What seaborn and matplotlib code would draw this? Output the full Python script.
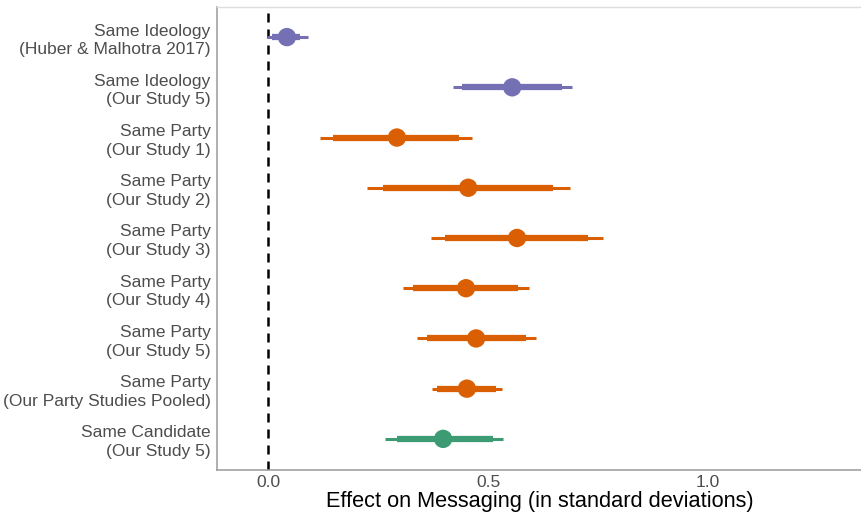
import matplotlib
matplotlib.use('Agg')

import numpy as np
import pandas as pd
import matplotlib.pyplot as plt
import seaborn as sns

# ------------------------------------------------------------------------
# data (effects in standard deviations)
# ------------------------------------------------------------------------

labels = ["Same Ideology\n(Huber & Malhotra 2017)",
          "Same Ideology\n(Our Study 5)",
          "Same Party\n(Our Study 1)",
          "Same Party\n(Our Study 2)",
          "Same Party\n(Our Study 3)",
          "Same Party\n(Our Study 4)",
          "Same Party\n(Our Study 5)",
          "Same Party\n(Our Party Studies Pooled)",
          "Same Candidate\n(Our Study 5)"]
kind = ["Ideology", "Ideology", "Party", "Party", "Party", "Party", "Party", "Party", "Candidate"]
estimate = [0.043, 0.555, 0.293, 0.455, 0.566, 0.450, 0.473, 0.452, 0.398]
thick_lo = [0.008, 0.441, 0.148, 0.261, 0.402, 0.330, 0.361, 0.385, 0.293]
thick_hi = [0.073, 0.668, 0.434, 0.648, 0.727, 0.568, 0.586, 0.518, 0.511]
thin_lo = [-0.002, 0.420, 0.118, 0.225, 0.370, 0.307, 0.338, 0.372, 0.266]
thin_hi = [0.091, 0.690, 0.464, 0.686, 0.761, 0.593, 0.609, 0.532, 0.534]

palette = {"Ideology": "#7570b3", "Party": "#d95f02", "Candidate": "#3d9b74"}

df = pd.DataFrame({"label": labels, "kind": kind, "est": estimate,
                   "lo1": thick_lo, "hi1": thick_hi, "lo2": thin_lo, "hi2": thin_hi})
df["pos"] = np.arange(len(df))

# ------------------------------------------------------------------------
# plot
# ------------------------------------------------------------------------

sns.set_style("white")
plt.rcParams['font.family'] = ['Liberation Sans', 'DejaVu Sans']

fig = plt.figure(figsize=(8.62, 5.13), dpi=100)
ax = fig.add_axes([0.2517, 0.0838, 0.7483, 0.9026])

ax.axvline(0, color="black", lw=1.8, linestyle=(0, (3.6, 2.8)), zorder=1)

cols = df["kind"].map(palette)
ax.hlines(df["pos"], df["lo2"], df["hi2"], colors=cols, lw=2.2, zorder=2)
ax.hlines(df["pos"], df["lo1"], df["hi1"], colors=cols, lw=4.5, zorder=3)
sns.scatterplot(data=df, x="est", y="pos", hue="kind", palette=palette,
                s=175, edgecolor="none", legend=False, ax=ax, zorder=4)

ax.set_xlim(-0.116, 1.35)
ax.set_ylim(8.62, -0.6)
ax.set_xticks([0.0, 0.5, 1.0])
ax.set_xticklabels(["0.0", "0.5", "1.0"])
ax.set_yticks(df["pos"])
ax.set_yticklabels(df["label"], ha="right", linespacing=1.3)

ax.tick_params(axis="both", labelsize=12.5, labelcolor="#4d4d4d", color="#999999",
               length=2.5, width=0.8, pad=2)
ax.tick_params(axis="x", pad=1)
ax.set_xlabel("Effect on Messaging (in standard deviations)", fontsize=15.7,
              color="black", labelpad=1)
ax.set_ylabel("")

for side in ["left", "bottom"]:
    ax.spines[side].set_color("#9a9a9a")
    ax.spines[side].set_linewidth(1.1)
ax.spines["top"].set_color("#dddddd")
ax.spines["top"].set_linewidth(1.0)
ax.spines["right"].set_visible(False)

fig.savefig("out.png", dpi=100)
